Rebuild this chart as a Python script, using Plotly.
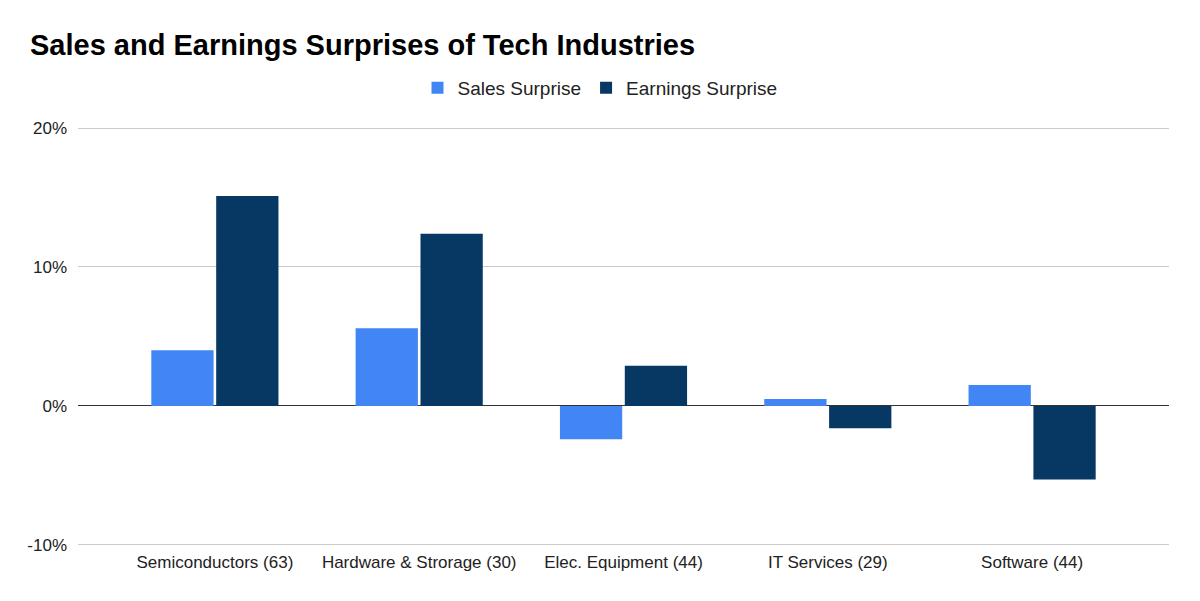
import plotly.graph_objects as go

categories = ["Semiconductors (63)", "Hardware & Strorage (30)", "Elec. Equipment (44)", "IT Services (29)", "Software (44)"]
sales_surprise = [4.0, 5.6, -2.4, 0.5, 1.5]
earnings_surprise = [15.1, 12.4, 2.9, -1.6, -5.3]
tick_vals = [-10, 0, 10, 20]
tick_text = ["-10%", "0%", "10%", "20%"]

FONT = "Liberation Sans, Arial, sans-serif"

fig = go.Figure()
fig.add_trace(go.Bar(name="Sales Surprise", x=categories, y=sales_surprise,
                     marker=dict(color="#4285f4", line=dict(width=0))))
fig.add_trace(go.Bar(name="Earnings Surprise", x=categories, y=earnings_surprise,
                     marker=dict(color="#073763", line=dict(width=0))))

fig.update_layout(
    width=1200, height=601,
    paper_bgcolor="white", plot_bgcolor="white",
    margin=dict(l=78, r=31, t=122, b=54),
    barmode="group", bargap=0.365, bargroupgap=0.04,
    font=dict(family=FONT, color="#222222"),
    title=dict(text="<b>Sales and Earnings Surprises of Tech Industries</b>",
               x=30 / 1200, xref="container", xanchor="left",
               y=1 - 45 / 601, yref="container", yanchor="middle",
               font=dict(size=29, color="#000000", family=FONT)),
    legend=dict(orientation="h", xref="container", x=0.5, xanchor="center",
                yref="container", y=1 - 88 / 601, yanchor="middle",
                font=dict(size=19, color="#222222"), itemwidth=30,
                traceorder="normal"),
    showlegend=True,
)
fig.update_xaxes(range=[-0.67, 4.67], showgrid=False, showline=False, ticks="",
                 ticklabelstandoff=3,
                 tickfont=dict(size=17, color="#222222"))
fig.update_yaxes(range=[-10.15, 20.15], tickvals=tick_vals, ticktext=tick_text,
                 showgrid=True, gridcolor="#cccccc", gridwidth=1,
                 zeroline=True, zerolinecolor="#333333", zerolinewidth=1,
                 showline=False, ticks="", ticklabelstandoff=10,
                 tickfont=dict(size=17, color="#222222"))

fig.write_html("out.html")
